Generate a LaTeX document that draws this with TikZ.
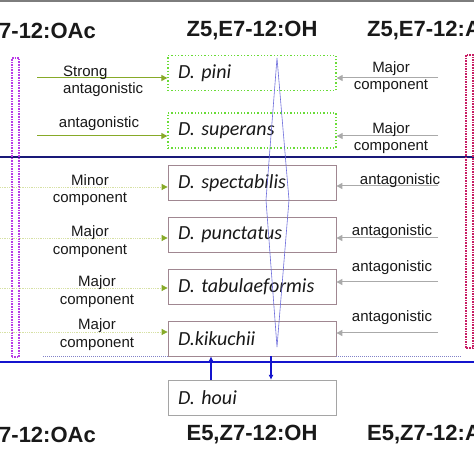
\documentclass[tikz,border=0pt]{standalone}
\usepackage{fontspec}
\setmainfont{Liberation Sans}
\newfontfamily\speciesfont{Carlito}
\usetikzlibrary{
  arrows.meta,
  positioning
}
\definecolor{labelcolor}{RGB}{25, 25, 25}
\definecolor{greenarrowcolor}{RGB}{135, 170, 40}
\definecolor{palearrowcolor}{RGB}{215, 225, 165}
\definecolor{grayarrowcolor}{RGB}{170, 170, 170}
\definecolor{greenframe}{RGB}{105, 220, 55}
\definecolor{mauveframe}{RGB}{160, 135, 145}
\definecolor{houiframe}{RGB}{165, 165, 165}
\definecolor{navyline}{RGB}{25, 25, 120}
\definecolor{bluelinecolor}{RGB}{20, 20, 205}
\definecolor{lenscolor}{RGB}{110, 110, 220}
\definecolor{violetframe}{RGB}{185, 60, 230}
\definecolor{crimsonframe}{RGB}{200, 30, 100}
\definecolor{dotlinecolor}{RGB}{130, 130, 200}
\definecolor{topbarcolor}{RGB}{125, 125, 125}
\tikzset{
speciesbox/.style={
  draw,
  minimum width=168pt,
  minimum height=35pt,
  text width=148pt,
  inner xsep=10pt,
  inner ysep=0pt,
  align=left,
  font=\speciesfont\itshape\fontsize{20}{22}\selectfont,
  text=labelcolor
},
greenbox/.style={
  speciesbox,
  draw=greenframe,
  dotted,
  line width=1.3pt
},
mauvebox/.style={
  speciesbox,
  draw=mauveframe,
  line width=0.8pt
},
houibox/.style={
  speciesbox,
  draw=houiframe,
  line width=0.8pt
},
effectlabel/.style={
  font=\fontsize{15}{17.5}\selectfont,
  text=labelcolor,
  align=center,
  inner sep=0pt
},
titlelabel/.style={
  font=\bfseries\fontsize{22}{24}\selectfont,
  text=labelcolor,
  inner sep=0pt
},
greenarrow/.style={
  -{Triangle[length=6pt,width=6pt]},
  line width=1pt,
  draw=greenarrowcolor
},
palearrow/.style={
  -{Triangle[length=6pt,width=6pt,color=greenarrowcolor]},
  line width=0.8pt,
  draw=palearrowcolor,
  densely dotted
},
grayarrow/.style={
  -{Triangle[length=6pt,width=6pt]},
  line width=1pt,
  draw=grayarrowcolor
},
bluearrow/.style={
  -{Latex[length=5pt,width=5pt]},
  line width=1.2pt,
  draw=bluelinecolor
},
divider/.style={
  line width=2.5pt
},
dotframe/.style={
  densely dotted,
  line width=1.6pt
}
}

\begin{document}
\begin{tikzpicture}[x=1pt, y=1pt]
  \useasboundingbox (0,0) rectangle (474,474);
  \clip (0,0) rectangle (474,474);
  \fill[white] (0,0) rectangle (474,474);
  \fill[topbarcolor] (0,472) rectangle (474,474);

  % isomer headings
  \node[titlelabel, anchor=west] (oactop) at (-1,443) {7-12:OAc};
  \node[titlelabel] (ohtop) at (252,443) {Z5,E7-12:OH};
  \node[titlelabel, anchor=west] (aldtop) at (367,443) {Z5,E7-12:A};
  \node[titlelabel, anchor=west] (oacbot) at (-1,39.5) {7-12:OAc};
  \node[titlelabel] (ohbot) at (252,39.5) {E5,Z7-12:OH};
  \node[titlelabel, anchor=west] (aldbot) at (367,39.5) {E5,Z7-12:A};

  % species
  \node[greenbox] (pini) at (252,401) {D. pini};
  \node[greenbox] (superans) at (252,343.5) {D. superans};
  \node[mauvebox, below=16.5pt of superans] (spectabilis) {D. spectabilis};
  \node[mauvebox, below=16pt of spectabilis] (punctatus) {D. punctatus};
  \node[mauvebox, below=16pt of punctatus] (tabulaeformis) {D. tabulaeformis};
  \node[mauvebox, below=16pt of tabulaeformis] (kikuchii) {D.kikuchii};
  \node[houibox, below=23.5pt of kikuchii] (houi) {D. houi};

  % dividers and frames
  \draw[divider, navyline] (0,317) -- (474,317);
  \draw[divider, bluelinecolor] (0,112) -- (474,112);
  \draw[dotframe, violetframe] (12,117) rectangle (19,416);
  \draw[dotframe, crimsonframe] (466,126) rectangle (473,419);
  \draw[densely dotted, line width=1pt, dotlinecolor] (kikuchii.south west) -- ++(-125,0);
  \draw[densely dotted, line width=1pt, dotlinecolor] (kikuchii.south east) -- ++(125,0);
  \draw[lenscolor, line width=0.6pt] (277,416) -- (266,274) -- (277,127) -- (289,274) -- cycle;

  % left side (acetate)
  \coordinate (pinileft) at (37,396);
  \coordinate (superansleft) at (37,338);
  \coordinate (spectabilisleft) at (0,287);
  \coordinate (punctatusleft) at (0,236);
  \coordinate (tabulaeformisleft) at (0,186);
  \coordinate (kikuchiileft) at (0,142);
  \draw[greenarrow] (pinileft) -- (pinileft -| pini.west);
  \draw[greenarrow] (superansleft) -- (superansleft -| superans.west);
  \draw[palearrow] (spectabilisleft) -- (spectabilisleft -| spectabilis.west);
  \draw[palearrow] (punctatusleft) -- (punctatusleft -| punctatus.west);
  \draw[palearrow] (tabulaeformisleft) -- (tabulaeformisleft -| tabulaeformis.west);
  \draw[palearrow] (kikuchiileft) -- (kikuchiileft -| kikuchii.west);
  \node[effectlabel, align=left, anchor=west] (pinieffect) at (63,392.5) {Strong\\antagonistic};
  \node[effectlabel] (superanseffect) at (99,350) {antagonistic};
  \node[effectlabel] (spectabiliseffect) at (90,284) {Minor\\component};
  \node[effectlabel] (punctatuseffect) at (90,232.5) {Major\\component};
  \node[effectlabel] (tabulaeformiseffect) at (97,182.5) {Major\\component};
  \node[effectlabel] (kikuchiieffect) at (97,139.5) {Major\\component};

  % right side (aldehyde)
  \coordinate (piniright) at (438,396);
  \coordinate (superansright) at (438,338);
  \coordinate (spectabilisright) at (438,288);
  \coordinate (punctatusright) at (438,236);
  \coordinate (tabulaeformisright) at (438,192);
  \coordinate (kikuchiiright) at (438,141);
  \draw[grayarrow] (piniright) -- (piniright -| pini.east);
  \draw[grayarrow] (superansright) -- (superansright -| superans.east);
  \draw[grayarrow] (spectabilisright) -- (spectabilisright -| spectabilis.east);
  \draw[grayarrow] (punctatusright) -- (punctatusright -| punctatus.east);
  \draw[grayarrow] (tabulaeformisright) -- (tabulaeformisright -| tabulaeformis.east);
  \draw[grayarrow] (kikuchiiright) -- (kikuchiiright -| kikuchii.east);
  \node[effectlabel] (piniresponse) at (391,397) {Major\\component};
  \node[effectlabel] (superansresponse) at (391,336) {Major\\component};
  \node[effectlabel] (spectabilisresponse) at (400,293) {antagonistic};
  \node[effectlabel] (punctatusresponse) at (392,242) {antagonistic};
  \node[effectlabel] (tabulaeformisresponse) at (392,206) {antagonistic};
  \node[effectlabel] (kikuchiiresponse) at (392,156) {antagonistic};

  % houi links
  \coordinate (upx) at (211,0);
  \coordinate (downx) at (271,0);
  \draw[bluearrow] (houi.north -| upx) -- (kikuchii.south -| upx);
  \draw[bluearrow] (kikuchii.south -| downx) -- (houi.north -| downx);
\end{tikzpicture}
\end{document}
